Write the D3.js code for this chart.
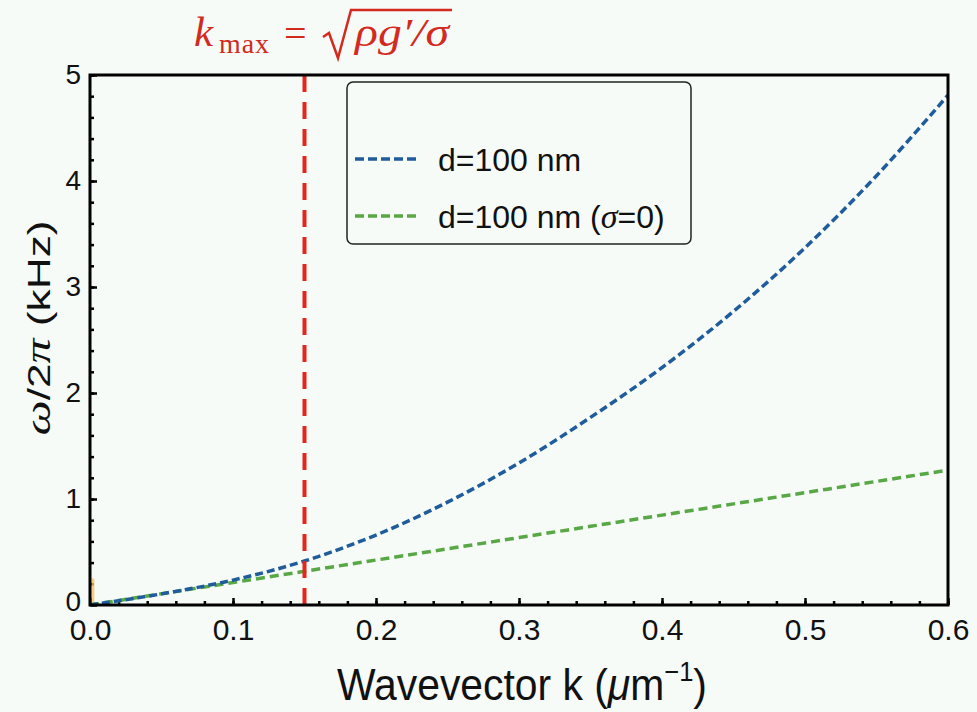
<!doctype html>
<html>
<head>
<meta charset="utf-8"/>
<title>Dispersion</title>
<script src="https://d3js.org/d3.v7.min.js"></script>
<style>
body { margin: 0; background: #f6fbf8; }
svg { display: block; font-family: 'Liberation Sans', Arial, sans-serif; }
</style>
</head>
<body>
<svg id="svg1"></svg>
<script>
// values
const kValues = [0, 0.05, 0.1, 0.15, 0.2, 0.25, 0.3, 0.35, 0.4, 0.45, 0.5, 0.55, 0.6]
const blueValues = [0, 0.105, 0.235, 0.415, 0.66, 0.97, 1.34, 1.77, 2.24, 2.77, 3.37, 4.05, 4.81]
const greenValues = [0, 0.106, 0.212, 0.318, 0.424, 0.53, 0.636, 0.742, 0.848, 0.954, 1.06, 1.166, 1.272]
const seriesNames = ['d=100 nm', 'd=100 nm (σ=0)']
const kMax = 0.15
const xTicks = [0, 0.1, 0.2, 0.3, 0.4, 0.5, 0.6]
const yTicks = [0, 1, 2, 3, 4, 5]

const width = 977
const height = 712
const margin = {left: 90, right: 29, top: 75, bottom: 107}
const bg = '#f6fbf8'

const svg = d3.select('#svg1')
    .attr('width', width)
    .attr('height', height)

svg.append('rect').attr('width', width).attr('height', height).attr('fill', bg)

const x = d3.scaleLinear().domain([0, 0.6]).range([margin.left, width - margin.right])
const y = d3.scaleLinear().domain([0, 5]).range([height - margin.bottom, margin.top])

// minor ticks (inside)
const xMinor = d3.range(0, 0.6001, 0.02)
const yMinor = d3.range(0, 5.001, 0.2)
svg.append('g')
    .attr('transform', `translate(0,${y(0)})`)
    .call(d3.axisBottom(x).tickValues(xMinor).tickSize(-4).tickFormat(''))
    .call(g => g.select('.domain').remove())
    .call(g => g.selectAll('line').attr('stroke-width', 2.5))
svg.append('g')
    .attr('transform', `translate(${x(0)},0)`)
    .call(d3.axisLeft(y).tickValues(yMinor).tickSize(-4).tickFormat(''))
    .call(g => g.select('.domain').remove())
    .call(g => g.selectAll('line').attr('stroke-width', 2.5))

// major ticks + labels
svg.append('g')
    .attr('transform', `translate(0,${y(0)})`)
    .call(d3.axisBottom(x).tickValues(xTicks).tickSizeInner(-7).tickSizeOuter(0).tickPadding(14).tickFormat(d3.format('.1f')))
    .call(g => g.select('.domain').remove())
    .call(g => g.selectAll('line').attr('stroke-width', 2.5))
    .call(g => g.selectAll('text').attr('font-size', 30).attr('font-family', 'Liberation Sans').attr('fill', '#111'))
svg.append('g')
    .attr('transform', `translate(${x(0)},0)`)
    .call(d3.axisLeft(y).tickValues(yTicks).tickSizeInner(-7).tickSizeOuter(0).tickPadding(9).tickFormat(d3.format('d')))
    .call(g => g.select('.domain').remove())
    .call(g => g.selectAll('line').attr('stroke-width', 2.5))
    .call(g => g.selectAll('text').attr('font-size', 28).attr('font-family', 'Liberation Sans').attr('fill', '#111'))
    .call(g => g.selectAll('.tick').filter(d => d === 0).select('text').attr('dy', '0.2em'))

// faint orange trace at the origin
svg.append('line')
    .attr('x1', x(0.002)).attr('x2', x(0.002))
    .attr('y1', y(0)).attr('y2', y(0.25))
    .attr('stroke', '#f4c46a').attr('stroke-width', 3).attr('opacity', 0.8)

const line = d3.line().x(d => x(d[0])).y(d => y(d[1])).curve(d3.curveMonotoneX)

svg.append('path')
    .datum(kValues.map((k, i) => [k, greenValues[i]]))
    .attr('d', line)
    .attr('fill', 'none')
    .attr('stroke', '#58a846')
    .attr('stroke-width', 3.5)
    .attr('stroke-dasharray', '9,5')

svg.append('path')
    .datum(kValues.map((k, i) => [k, blueValues[i]]))
    .attr('d', line)
    .attr('fill', 'none')
    .attr('stroke', '#1f5c9c')
    .attr('stroke-width', 3.5)
    .attr('stroke-dasharray', '8,4')

// k_max marker
svg.append('line')
    .attr('x1', x(kMax)).attr('x2', x(kMax))
    .attr('y1', y(5)).attr('y2', y(0))
    .attr('stroke', '#e5261c')
    .attr('stroke-width', 4)
    .attr('stroke-dasharray', '17,10')

// frame
svg.append('rect')
    .attr('x', x(0)).attr('y', y(5))
    .attr('width', x(0.6) - x(0)).attr('height', y(0) - y(5))
    .attr('fill', 'none').attr('stroke', '#000').attr('stroke-width', 3)

// legend
const lg = svg.append('g')
lg.append('rect')
    .attr('x', 347).attr('y', 82).attr('width', 344).attr('height', 162)
    .attr('rx', 6).attr('fill', bg).attr('stroke', '#222').attr('stroke-width', 1.5)
const legendColors = ['#1f5c9c', '#58a846']
seriesNames.forEach((name, i) => {
    const yy = 159 + i * 57
    lg.append('line')
        .attr('x1', 355).attr('x2', 420).attr('y1', yy).attr('y2', yy)
        .attr('stroke', legendColors[i]).attr('stroke-width', 3.5)
        .attr('stroke-dasharray', '9,4')
    const t = lg.append('text')
        .attr('x', 438).attr('y', yy + 12)
        .attr('font-size', 32).attr('fill', '#111')
    const parts = name.split('σ')
    t.append('tspan').text(parts[0])
    if (parts.length > 1) {
        t.append('tspan').attr('font-style', 'italic').attr('font-family', 'Liberation Serif').attr('font-size', 34).text('σ')
        t.append('tspan').text(parts[1])
    }
})

// axis titles, stretched to the reference's boxes
const xt = svg.append('text')
    .attr('text-anchor', 'middle')
    .attr('font-size', 40).attr('fill', '#111')
    .call(t => {
        t.append('tspan').text('Wavevector k (')
        t.append('tspan').attr('font-style', 'italic').text('μ')
        t.append('tspan').text('m')
        t.append('tspan').attr('font-size', 25).attr('dy', -17).text('−1')
        t.append('tspan').attr('dy', 17).text(')')
    })
const xtW = xt.node().getComputedTextLength()
xt.attr('transform', `translate(522,700) scale(${370 / xtW},1.12)`)

const yt = svg.append('text')
    .attr('text-anchor', 'middle')
    .attr('font-size', 32).attr('fill', '#111')
    .call(t => {
        t.append('tspan').attr('font-style', 'italic').attr('font-family', 'Liberation Serif').attr('font-size', 36).text('ω')
        t.append('tspan').text('/2')
        t.append('tspan').attr('font-style', 'italic').attr('font-family', 'Liberation Serif').attr('font-size', 36).text('π')
        t.append('tspan').text(' (kHz)')
    })
const ytW = yt.node().getComputedTextLength()
yt.attr('transform', `translate(50,328) rotate(-90) scale(${215 / ytW},1)`)

// k_max formula
const red = '#d42a1e'
const title = svg.append('g').attr('fill', red).attr('font-family', 'Liberation Serif')
title.append('text').attr('x', 194).attr('y', 46).attr('font-size', 43).attr('font-style', 'italic').text('k')
title.append('text').attr('x', 219).attr('y', 53).attr('font-size', 28).attr('textLength', 50).text('max')
title.append('text').attr('x', 284).attr('y', 47).attr('font-size', 40).attr('textLength', 24).text('=')
title.append('path')
    .attr('d', 'M323,37 L329,33 L338,58 L351,10 L452,10')
    .attr('fill', 'none').attr('stroke', red).attr('stroke-width', 2.5)
title.append('text').attr('x', 355).attr('y', 46).attr('font-size', 40).attr('font-style', 'italic')
    .attr('textLength', 94).attr('lengthAdjust', 'spacingAndGlyphs')
    .text('ρg′/σ')
</script>
</body>
</html>
